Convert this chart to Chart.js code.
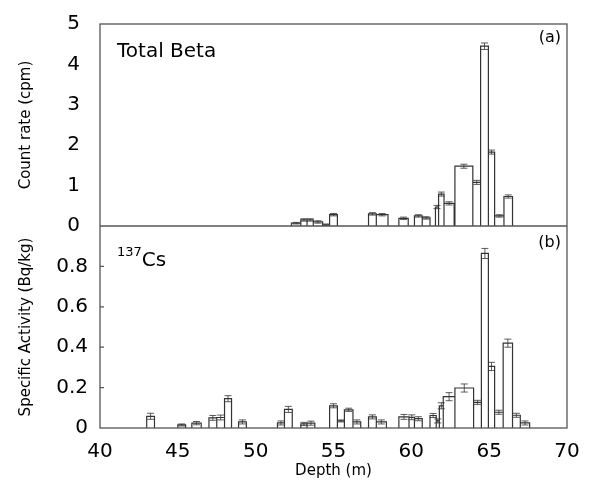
<!DOCTYPE html>
<html>
<head>
<meta charset="utf-8">
<script src="https://cdn.jsdelivr.net/npm/chart.js@4.4.1/dist/chart.umd.min.js"></script>
<style>
  body { margin: 0; background: #fff; }
</style>
</head>
<body>
<canvas id="depthChart" width="592" height="480"></canvas>
<script>
// depth intervals (m), values and errors
const betaFrom = [52.3, 52.9, 53.3, 53.7, 54.3, 54.75, 57.25, 57.75, 59.2, 60.2, 60.7, 61.55, 61.75, 62.1, 62.8, 63.95, 64.45, 64.95, 65.35, 65.95];
const betaTo   = [52.9, 53.3, 53.7, 54.3, 54.75, 55.25, 57.75, 58.5, 59.8, 60.7, 61.2, 61.75, 62.1, 62.75, 63.95, 64.45, 64.95, 65.35, 65.95, 66.5];
const betaVal  = [0.07, 0.15, 0.15, 0.10, 0.03, 0.28, 0.30, 0.28, 0.19, 0.25, 0.20, 0.47, 0.79, 0.56, 1.48, 1.08, 4.45, 1.83, 0.25, 0.73];
const betaErr  = [0.02, 0.03, 0.03, 0.03, 0.02, 0.03, 0.03, 0.03, 0.03, 0.03, 0.03, 0.04, 0.05, 0.04, 0.05, 0.05, 0.08, 0.05, 0.03, 0.04];

const csFrom = [43.0, 45.0, 45.9, 47.0, 47.5, 48.0, 48.9, 51.4, 51.85, 52.9, 53.3, 54.75, 55.25, 55.7, 56.25, 57.25, 57.75, 59.2, 59.85, 60.2, 61.2, 61.6, 61.8, 62.05, 62.8, 64.0, 64.5, 64.95, 65.35, 65.9, 66.5, 67.0];
const csTo   = [43.5, 45.5, 46.5, 47.5, 48.0, 48.45, 49.4, 51.85, 52.35, 53.3, 53.8, 55.25, 55.7, 56.25, 56.75, 57.75, 58.4, 59.85, 60.2, 60.7, 61.6, 61.8, 62.05, 62.8, 64.0, 64.5, 64.95, 65.35, 65.9, 66.5, 67.0, 67.6];
const csVal  = [0.058, 0.015, 0.024, 0.050, 0.052, 0.145, 0.030, 0.025, 0.092, 0.020, 0.024, 0.110, 0.035, 0.090, 0.030, 0.055, 0.030, 0.055, 0.053, 0.046, 0.062, 0.035, 0.110, 0.155, 0.198, 0.127, 0.864, 0.305, 0.078, 0.420, 0.063, 0.025];
const csErr  = [0.015, 0.005, 0.008, 0.012, 0.012, 0.015, 0.010, 0.010, 0.015, 0.008, 0.010, 0.010, 0.005, 0.008, 0.010, 0.010, 0.010, 0.012, 0.012, 0.010, 0.010, 0.010, 0.015, 0.020, 0.020, 0.010, 0.025, 0.020, 0.010, 0.020, 0.010, 0.010];

const depthTicks = [40, 45, 50, 55, 60, 65, 70];

const FONT = '"DejaVu Sans", sans-serif';

// turn intervals into a histogram outline (gaps between bars broken with nulls)
function outline(from, to, val) {
    const pts = [];
    for (let i = 0; i < val.length; i++) {
        pts.push({x: from[i], y: 0});
        pts.push({x: from[i], y: val[i]});
        pts.push({x: to[i], y: val[i]});
        pts.push({x: to[i], y: 0});
        pts.push({x: to[i], y: null});
    }
    return pts;
}

const errorBars = {
    id: 'errorBars',
    afterDatasetsDraw(chart) {
        const ctx = chart.ctx;
        const x = chart.scales.x;
        const sets = [
            {ys: chart.scales.yA, from: betaFrom, to: betaTo, val: betaVal, err: betaErr},
            {ys: chart.scales.yB, from: csFrom, to: csTo, val: csVal, err: csErr}
        ];
        ctx.save();
        ctx.strokeStyle = '#333';
        ctx.lineWidth = 0.8;
        sets.forEach(s => {
            for (let i = 0; i < s.val.length; i++) {
                const cx = x.getPixelForValue((s.from[i] + s.to[i]) / 2);
                const y1 = s.ys.getPixelForValue(s.val[i] - s.err[i]);
                const y2 = s.ys.getPixelForValue(s.val[i] + s.err[i]);
                ctx.beginPath();
                ctx.moveTo(cx, y1); ctx.lineTo(cx, y2);
                ctx.moveTo(cx - 3.5, y1); ctx.lineTo(cx + 3.5, y1);
                ctx.moveTo(cx - 3.5, y2); ctx.lineTo(cx + 3.5, y2);
                ctx.stroke();
            }
        });
        ctx.restore();
    }
};

const frame = {
    id: 'frame',
    afterDraw(chart) {
        const ctx = chart.ctx;
        const a = chart.chartArea;
        const yB = chart.scales.yB;
        const mid = chart.scales.yA.bottom;
        ctx.save();
        ctx.strokeStyle = '#555';
        ctx.lineWidth = 1.3;
        ctx.strokeRect(a.left, a.top, a.right - a.left, a.bottom - a.top);
        ctx.beginPath();
        ctx.moveTo(a.left, mid); ctx.lineTo(a.right, mid);
        // small inward ticks on the lower panel
        yB.ticks.forEach(t => {
            if (t.value > 0 && t.value < 0.95) {
                const py = yB.getPixelForValue(t.value);
                ctx.moveTo(a.left, py); ctx.lineTo(a.left + 4, py);
            }
        });
        ctx.stroke();
        // panel labels
        ctx.fillStyle = '#000';
        ctx.textBaseline = 'alphabetic';
        ctx.font = '20px ' + FONT;
        ctx.fillText('Total Beta', a.left + 17, 57);
        ctx.font = '16px ' + FONT;
        ctx.textAlign = 'right';
        ctx.fillText('(a)', a.right - 6, 42);
        ctx.fillText('(b)', a.right - 6, 247);
        ctx.textAlign = 'left';
        ctx.font = '13px ' + FONT;
        ctx.fillText('137', a.left + 17, 256);
        const w = ctx.measureText('137').width;
        ctx.font = '20px ' + FONT;
        ctx.fillText('Cs', a.left + 17 + w, 266);
        ctx.restore();
    }
};

new Chart(document.getElementById('depthChart'), {
    type: 'scatter',
    data: {
        datasets: [
            {
                data: outline(betaFrom, betaTo, betaVal),
                yAxisID: 'yA',
                showLine: true,
                spanGaps: false,
                borderColor: '#333',
                borderWidth: 1.2,
                pointRadius: 0
            },
            {
                data: outline(csFrom, csTo, csVal),
                yAxisID: 'yB',
                showLine: true,
                spanGaps: false,
                borderColor: '#333',
                borderWidth: 1.2,
                pointRadius: 0
            }
        ]
    },
    options: {
        responsive: false,
        animation: false,
        layout: {padding: {top: 18, right: 25, left: 0, bottom: 0}},
        plugins: {legend: {display: false}, tooltip: {enabled: false}},
        scales: {
            x: {
                type: 'linear',
                min: 40, max: 70,
                afterBuildTicks: s => { s.ticks = depthTicks.map(v => ({value: v})); },
                grid: {display: false},
                border: {display: false},
                ticks: {color: '#000', font: {size: 20, family: FONT}, padding: 4, maxRotation: 0, autoSkip: false},
                title: {display: true, text: 'Depth (m)', color: '#000', font: {size: 15, family: FONT}, padding: 0},
                afterFit: s => { s.height = 52; }
            },
            yB: {
                type: 'linear',
                position: 'left',
                stack: 'panels',
                stackWeight: 1,
                min: 0, max: 1,
                grid: {drawOnChartArea: false, drawTicks: false},
                border: {display: false},
                ticks: {
                    stepSize: 0.2,
                    autoSkip: false,
                    color: '#000',
                    font: {size: 20, family: FONT},
                    padding: 12,
                    callback: v => (v > 0.95 ? '' : (v === 0 ? '0' : v.toFixed(1)))
                },
                title: {display: true, text: 'Specific Activity (Bq/kg)', color: '#000', font: {size: 15, family: FONT}, padding: {top: 17, bottom: 0}},
                afterFit: s => { s.width = 100; }
            },
            yA: {
                type: 'linear',
                position: 'left',
                stack: 'panels',
                stackWeight: 1,
                min: 0, max: 5,
                grid: {display: false},
                border: {display: false},
                ticks: {stepSize: 1, autoSkip: false, color: '#000', font: {size: 20, family: FONT}, padding: 12},
                title: {display: true, text: 'Count rate (cpm)', color: '#000', font: {size: 15, family: FONT}, padding: {top: 17, bottom: 0}},
                afterFit: s => { s.width = 100; }
            }
        }
    },
    plugins: [errorBars, frame]
});
</script>
</body>
</html>
